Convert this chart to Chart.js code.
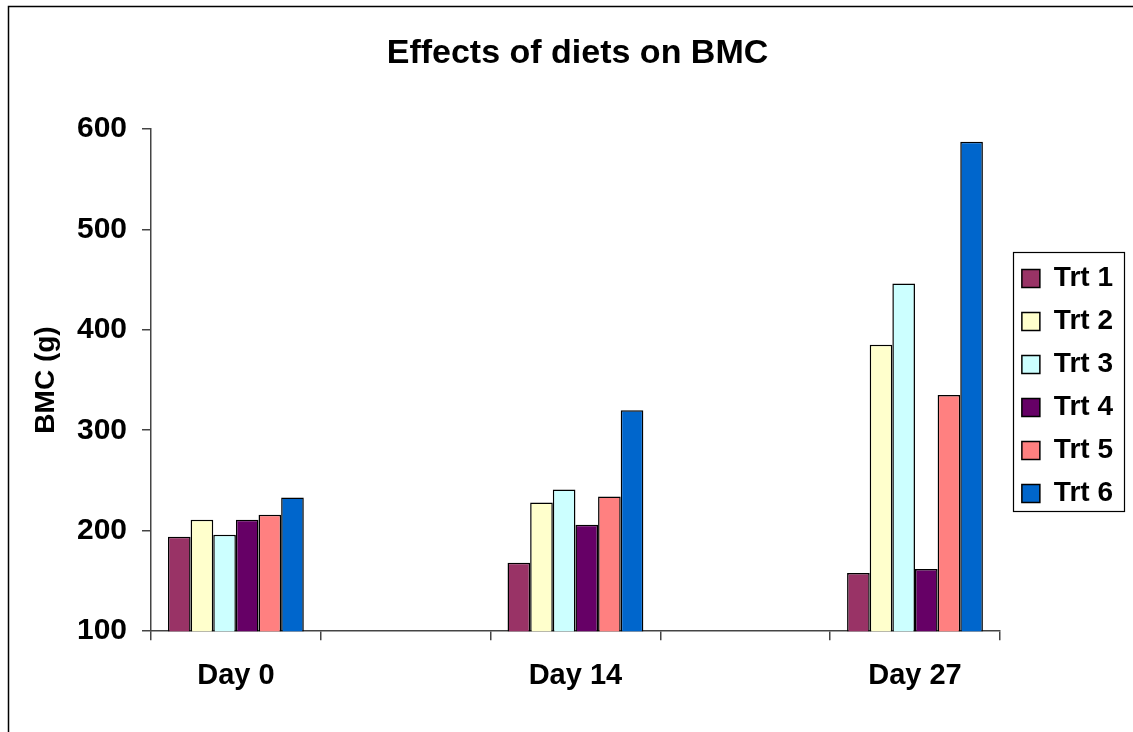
<!DOCTYPE html>
<html>
<head>
<meta charset="utf-8">
<title>Effects of diets on BMC</title>
<script src="https://cdn.jsdelivr.net/npm/chart.js@4.4.1/dist/chart.umd.min.js"></script>
<style>
    html, body { margin: 0; padding: 0; background: #ffffff; overflow: hidden; }
    #wrap { width: 1133px; height: 732px; }
</style>
</head>
<body>
<div id="wrap"><canvas id="graph" width="1133" height="732"></canvas></div>
<script>
// chart data
const days = ['Day 0', '', 'Day 14', '', 'Day 27'];
const trt1 = [194, null, 168, null, 158];
const trt2 = [211, null, 228, null, 385];
const trt3 = [196, null, 241, null, 446];
const trt4 = [211, null, 206, null, 162];
const trt5 = [216, null, 234, null, 335];
const trt6 = [233, null, 320, null, 587];
const seriesNames = ['Trt 1', 'Trt 2', 'Trt 3', 'Trt 4', 'Trt 5', 'Trt 6'];
const seriesColors = ['#993366', '#FFFFCC', '#CCFFFF', '#660066', '#FF8080', '#0066CC'];
const yTicks = [100, 200, 300, 400, 500, 600];

const fontFamily = 'Arial, "Liberation Sans", sans-serif';

document.addEventListener('DOMContentLoaded', function() {
    const ctx = document.getElementById('graph').getContext('2d');

    const datasets = [trt1, trt2, trt3, trt4, trt5, trt6].map((values, i) => ({
        label: seriesNames[i],
        data: values,
        backgroundColor: seriesColors[i],
        borderColor: '#000000',
        borderWidth: 1.5,
        categoryPercentage: 0.8,
        barPercentage: 1.0
    }));

    // outer frame of the chart object + border round the legend
    const framePlugin = {
        id: 'frame',
        afterDraw(chart) {
            const c = chart.ctx;
            c.save();
            c.strokeStyle = '#000000';
            c.lineWidth = 1.5;
            c.strokeRect(8.5, 6.5, 1300, 900);

            const legend = chart.legend;
            if (legend && legend.legendHitBoxes.length) {
                const boxes = legend.legendHitBoxes;
                const left = Math.min(...boxes.map(b => b.left));
                const right = Math.max(...boxes.map(b => b.left + b.width));
                const top = boxes[0].top;
                const last = boxes[boxes.length - 1];
                c.lineWidth = 1.2;
                c.strokeRect(Math.round(left - 9) + 0.5, Math.round(top - 13) + 0.5,
                    Math.round(right - left + 20), Math.round(last.top + last.height - top + 16));
            }
            c.restore();
        }
    };

    window.myChart = new Chart(ctx, {
        type: 'bar',
        data: {
            labels: days,
            datasets: datasets
        },
        options: {
            responsive: false,
            animation: false,
            layout: {
                padding: { top: 0, left: 32, right: 10, bottom: 21 }
            },
            scales: {
                x: {
                    grid: {
                        offset: true,
                        drawOnChartArea: false,
                        color: '#444444',
                        lineWidth: 1.5,
                        tickLength: 9
                    },
                    border: { color: '#444444', width: 1.5 },
                    ticks: {
                        color: '#000000',
                        padding: 18,
                        maxRotation: 0,
                        font: { family: fontFamily, size: 29, weight: 'bold' }
                    }
                },
                y: {
                    min: 100,
                    max: 600,
                    afterFit: function(scale) {
                        scale.width = 119;
                    },
                    afterBuildTicks: function(scale) {
                        scale.ticks = yTicks.map(v => ({ value: v }));
                    },
                    grid: {
                        drawOnChartArea: false,
                        color: '#444444',
                        lineWidth: 1.5,
                        tickLength: 9
                    },
                    border: { color: '#444444', width: 1.5 },
                    ticks: {
                        color: '#000000',
                        padding: 15,
                        font: { family: fontFamily, size: 30, weight: 'bold' }
                    },
                    title: {
                        display: true,
                        text: 'BMC (g)',
                        color: '#000000',
                        padding: { top: -3, bottom: 0 },
                        font: { family: fontFamily, size: 28, weight: 'bold' }
                    }
                },
                // empty spacer between the plot and the legend
                gap: {
                    type: 'linear',
                    position: 'right',
                    display: true,
                    afterFit: function(scale) {
                        scale.width = 7;
                    },
                    grid: { display: false },
                    border: { display: false },
                    ticks: { display: false }
                }
            },
            plugins: {
                title: {
                    display: true,
                    text: 'Effects of diets on BMC',
                    color: '#000000',
                    padding: { top: 33, bottom: 55 },
                    font: { family: fontFamily, size: 34, weight: 'bold' }
                },
                legend: {
                    display: true,
                    position: 'right',
                    fullSize: false,
                    title: {
                        display: true,
                        text: '',
                        padding: 0,
                        font: { family: fontFamily, size: 10 }
                    },
                    labels: {
                        color: '#000000',
                        boxWidth: 18,
                        boxHeight: 18,
                        padding: 15,
                        font: { family: fontFamily, size: 28, weight: 'bold' }
                    }
                },
                tooltip: { enabled: false }
            }
        },
        plugins: [framePlugin]
    });
});
</script>
</body>
</html>
